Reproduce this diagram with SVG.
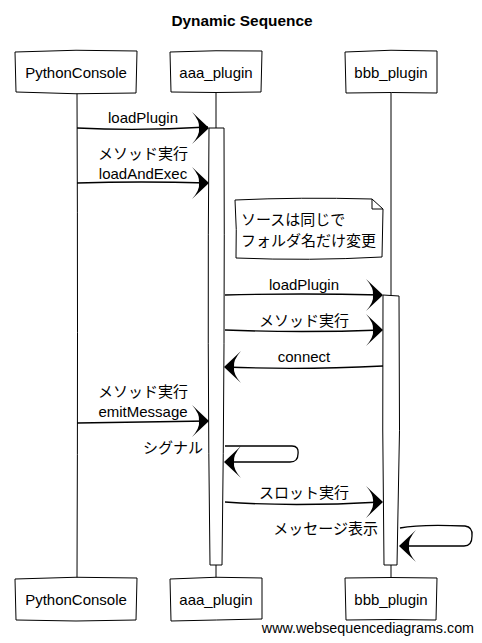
<svg xmlns="http://www.w3.org/2000/svg" width="482" height="643" viewBox="0 0 482 643">
<style>
text{font-family:"Liberation Sans","Noto Sans CJK JP",sans-serif;font-size:15px;fill:#000}
.t{font-weight:bold;font-size:15.4px}
.box{fill:#fff;stroke:#000;stroke-width:1}
.ln{fill:none;stroke:#000;stroke-width:1}
.msg{fill:none;stroke:#000;stroke-width:1.3}
.head{fill:#000;stroke:none}
.m{text-anchor:middle}
.e{text-anchor:end}
</style>
<defs>
<path id="hr" d="M0,0 L-17,-16 Q-9,-7 -10,0 Q-9,7 -17,16 Z"/>
<path id="hl" d="M0,0 L17,-16 Q9,-7 10,0 Q9,7 17,16 Z"/>
</defs>
<rect width="482" height="643" fill="#fff"/>
<text class="t m" x="242" y="26">Dynamic Sequence</text>

<g id="lifelines">
<path class="ln" d="M77,93 Q78,330 77,578"/>
<path class="ln" d="M216,93 L216,128 M216,565 L216,578"/>
<path class="ln" d="M391,93 L391,295 M391,565 L391,578"/>
</g>

<g id="PythonConsole_top"><path class="box" d="M15,52 Q76,49 137,51 L136,93 Q76,95 16,92 Z"/><text class="m" x="76" y="78">PythonConsole</text></g>
<g id="aaa_plugin_top"><path class="box" d="M170,52 Q216,50 262,51 L261,92 Q216,93 171,92 Z"/><text class="m" x="216" y="78">aaa_plugin</text></g>
<g id="bbb_plugin_top"><path class="box" d="M345,52 Q391,49 437,51 L437,93 Q391,92 346,93 Z"/><text class="m" x="391" y="78">bbb_plugin</text></g>

<g id="aaa_activation"><path class="box" d="M209,128 L224,128 Q225,340 222,565 L210,565 Q207,340 209,128 Z"/></g>
<g id="bbb_activation"><path class="box" d="M383,295 L399,296 Q401,430 397,565 L384,565 Q382,430 383,295 Z"/></g>

<g id="note"><path class="box" d="M235,200 Q300,197 372,199 L383,209 L382,257 Q310,261 236,258 Q237,230 235,200 Z"/><path class="ln" d="M372,199 L372,209 L383,209"/>
<text x="241" y="225">ソースは同じで</text><text x="241" y="246">フォルダ名だけ変更</text></g>

<g id="connectors">
<path class="msg" d="M77,128 Q140,131 208,127"/><use href="#hr" x="209" y="128"/>
<text class="m" x="143" y="123">loadPlugin</text>

<path class="msg" d="M77,183 Q140,181 208,183"/><use href="#hr" x="209" y="183"/>
<text class="m" x="143" y="159">メソッド実行</text>
<text class="m" x="143" y="179">loadAndExec</text>

<path class="msg" d="M225,295 Q300,293 382,295"/><use href="#hr" x="383" y="295"/>
<text class="m" x="304" y="290">loadPlugin</text>

<path class="msg" d="M225,330 Q300,333 382,330"/><use href="#hr" x="383" y="330"/>
<text class="m" x="304" y="326">メソッド実行</text>

<path class="msg" d="M383,366 Q300,370 225,367"/><use href="#hl" x="224" y="367"/>
<text class="m" x="304" y="362">connect</text>

<path class="msg" d="M77,423 Q140,422 208,421"/><use href="#hr" x="209" y="421"/>
<text class="m" x="143" y="397">メソッド実行</text>
<text class="m" x="143" y="417">emitMessage</text>

<path class="msg" d="M225,446 Q260,446 292,446 Q299,446 298,454 Q298,462 290,462 L226,462"/><use href="#hl" x="224" y="462"/>
<text class="e" x="203" y="453">シグナル</text>

<path class="msg" d="M225,502 Q290,507 382,502"/><use href="#hr" x="383" y="502"/>
<text class="m" x="304" y="498">スロット実行</text>

<path class="msg" d="M400,528 Q420,524 465,526 Q473,527 472,536 Q472,546 464,546 L401,546"/><use href="#hl" x="399" y="546"/>
<text class="e" x="378" y="534">メッセージ表示</text>
</g>

<g id="PythonConsole_bottom"><path class="box" d="M15,579 Q76,576 137,578 L136,620 Q76,622 16,620 Z"/><text class="m" x="76" y="605">PythonConsole</text></g>
<g id="aaa_plugin_bottom"><path class="box" d="M170,579 Q216,576 262,578 L262,619 Q216,620 171,621 Z"/><text class="m" x="216" y="605">aaa_plugin</text></g>
<g id="bbb_plugin_bottom"><path class="box" d="M345,578 Q391,577 437,578 L436,620 Q391,619 346,620 Z"/><text class="m" x="391" y="605">bbb_plugin</text></g>

<text x="474" y="633" style="text-anchor:end;font-size:14.3px">www.websequencediagrams.com</text>
</svg>
